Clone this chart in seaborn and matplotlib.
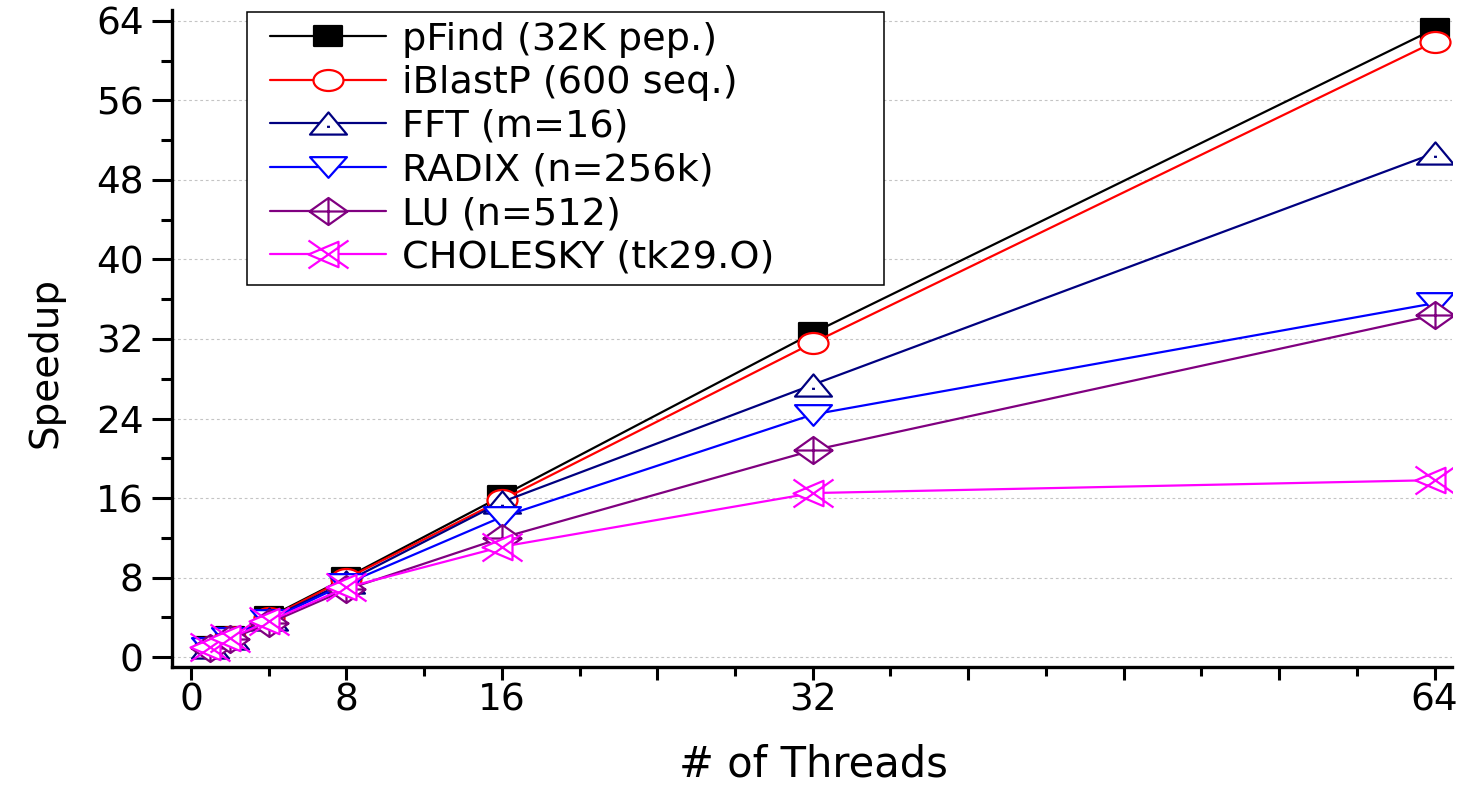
import numpy as np
import pandas as pd
import matplotlib
matplotlib.use("Agg")
import matplotlib.pyplot as plt
import seaborn as sns
from matplotlib.path import Path
from matplotlib.transforms import Affine2D
from matplotlib.lines import Line2D
from matplotlib.legend_handler import HandlerLine2D

# ---------------- data ----------------
threads = [1, 2, 4, 8, 16, 32, 64]
pfind = [1.0, 2.0, 4.0, 8.0, 16.2, 32.6, 63.2]
iblastp = [1.0, 2.0, 3.9, 7.9, 15.8, 31.6, 61.9]
fft = [1.0, 1.9, 3.8, 7.6, 15.6, 27.4, 50.7]
radix = [0.9, 1.9, 3.7, 7.4, 14.1, 24.4, 35.6]
lu = [0.9, 1.8, 3.4, 6.8, 12.0, 20.8, 34.4]
cholesky = [1.0, 1.9, 3.6, 7.0, 11.1, 16.5, 17.8]

series_names = ["pFind (32K pep.)", "iBlastP (600 seq.)", "FFT (m=16)",
                "RADIX (n=256k)", "LU (n=512)", "CHOLESKY (tk29.O)"]
series_values = [pfind, iblastp, fft, radix, lu, cholesky]

xtick_values = [0, 8, 16, 24, 32, 40, 48, 56, 64]
xtick_labels = ["0", "8", "16", "", "32", "", "", "", "64"]
ytick_values = [0, 8, 16, 24, 32, 40, 48, 56, 64]
ytick_labels = ["0", "8", "16", "24", "32", "40", "48", "56", "64"]

# ---------------- styles ----------------
colors = ["#000000", "#FF0000", "#000080", "#0000FF", "#800080", "#FF00FF"]

M, L, C = Path.MOVETO, Path.LINETO, Path.CLOSEPOLY

sq = Path([(-0.5, -0.34), (0.5, -0.34), (0.5, 0.34), (-0.5, 0.34), (-0.5, -0.34)],
          [M, L, L, L, C])
ell = Path.unit_circle().transformed(Affine2D().scale(0.5, 0.35))
tri_up = Path([(0, 0.3), (-0.5, -0.3), (0.5, -0.3), (0, 0.3),
               (-0.04, -0.09), (0.04, -0.09)],
              [M, L, L, C, M, L])
tri_dn = Path([(0, -0.28), (-0.5, 0.28), (0.5, 0.28), (0, -0.28)], [M, L, L, C])
dia = Path([(0, 0.355), (0.5, 0), (0, -0.355), (-0.5, 0), (0, 0.355),
            (0, 0.355), (0, -0.355), (-0.5, 0), (0.5, 0)],
           [M, L, L, L, C, M, L, M, L])
chol = Path([(-0.5, 0.35), (0.5, -0.35), (-0.5, -0.35), (0.5, 0.35),
             (-0.5, 0.0), (0.25, 0.317), (0.25, -0.317), (-0.5, 0.0)],
            [M, L, M, L, M, L, L, C])

markers = [sq, ell, tri_up, tri_dn, dia, chol]
msizes = [20.2, 21.6, 26.6, 26.6, 27.4, 28.8]
faces = ["#000000", "white", "white", "white", "white", "white"]

# ---------------- figure ----------------
sns.set_theme(style="white")
plt.rcParams["font.family"] = ["DejaVu Sans"]
plt.rcParams["text.color"] = "black"
plt.rcParams["axes.labelcolor"] = "black"
plt.rcParams["xtick.color"] = "black"
plt.rcParams["ytick.color"] = "black"

fig = plt.figure(figsize=(14.68, 7.86), dpi=100)
ax = fig.add_axes([172 / 1468, 1 - 667 / 786, (1452 - 172) / 1468, (667 - 10) / 786])

for name, vals, col, mk, ms, fc in zip(series_names, series_values, colors, markers, msizes, faces):
    df = pd.DataFrame({"threads": threads, "speedup": vals})
    sns.lineplot(data=df, x="threads", y="speedup", ax=ax, color=col,
                 marker=mk, markersize=ms, markerfacecolor=fc,
                 markeredgecolor=col, markeredgewidth=1.6, linewidth=1.6,
                 legend=False, estimator=None, sort=False)

ax.set_xlim(-0.98, 64.9)
ax.set_ylim(-1.0, 65.1)

ax.set_xticks(xtick_values)
ax.set_xticklabels(xtick_labels)
ax.set_xticks([v + 4 for v in xtick_values[:-1]], minor=True)
ax.set_yticks(ytick_values)
ax.set_yticklabels(ytick_labels)
ax.set_yticks([v + 4 for v in ytick_values[:-1]], minor=True)

for s in ["top", "right"]:
    ax.spines[s].set_visible(False)
for s in ["left", "bottom"]:
    ax.spines[s].set_linewidth(2.4)
    ax.spines[s].set_color("black")

ax.tick_params(axis="y", which="major", direction="out", length=14.4, width=2.2,
               color="black", labelcolor="black", labelsize=27, pad=6, left=True)
ax.tick_params(axis="y", which="minor", direction="out", length=8, width=2.2,
               color="black", left=True)
ax.tick_params(axis="x", which="major", direction="out", length=9.5, width=2.2,
               color="black", labelcolor="black", labelsize=27, pad=2, bottom=True)
ax.tick_params(axis="x", which="minor", direction="out", length=6.5, width=2.2,
               color="black", bottom=True)

ax.grid(False)
ax.yaxis.grid(True, which="major", color="#c4c4c4", linestyle=(0, (2.5, 2.5)), linewidth=0.8)
ax.set_axisbelow(True)

ax.set_xlabel("# of Threads", fontsize=30, va="center", color="black")
ax.set_ylabel("Speedup", fontsize=28, va="center", color="black")
ax.xaxis.set_label_coords(0.5008, -0.149)
ax.yaxis.set_label_coords(-0.099, 0.464)

# ---------------- legend ----------------
handles = []
for name, col, mk, ms, fc in zip(series_names, colors, markers, msizes, faces):
    handles.append(Line2D([], [], color=col, marker=mk, markersize=ms,
                          markerfacecolor=fc, markeredgecolor=col,
                          markeredgewidth=1.6, linewidth=1.6))

leg = ax.legend(handles, series_names, loc="upper left",
                bbox_to_anchor=(247 / 1468, 1 - 12 / 786, 637 / 1468, 0),
                bbox_transform=fig.transFigure, mode="expand",
                borderaxespad=0, fontsize=27.5, frameon=True, fancybox=False,
                framealpha=1, edgecolor="black", borderpad=0.25,
                labelspacing=0.2, handlelength=3.38, handletextpad=0.42,
                numpoints=1, handler_map={Line2D: HandlerLine2D(xpad=0.34)})
leg.get_frame().set_linewidth(1.1)
for t in leg.get_texts():
    t.set_color("black")

fig.savefig("out.png", dpi=100, facecolor="white")
